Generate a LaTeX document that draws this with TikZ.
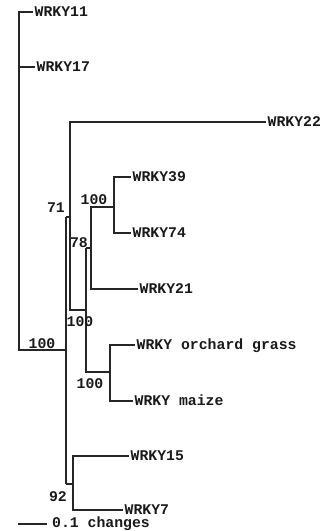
\documentclass[tikz,border=0pt]{standalone}
\usepackage{fontspec}
\setmonofont{Liberation Mono}
\begin{document}
\begin{tikzpicture}[x=1pt,y=-1pt,
  branch/.style={draw=black!85,line width=1.4pt},
  leaf/.style={anchor=west,inner xsep=1.5pt,inner ysep=0pt,text height=8.5pt,text depth=0pt,font=\ttfamily\bfseries\fontsize{14.8}{16}\selectfont,text=black!90},
  boot/.style={inner sep=0pt,text height=8.5pt,text depth=0pt,font=\ttfamily\bfseries\fontsize{14.8}{16}\selectfont,text=black!90}]
\useasboundingbox (0,0) rectangle (325,531);
% leaves
\node[leaf] (w11) at (33,12) {WRKY11};
\node[leaf] (w17) at (35,67) {WRKY17};
\node[leaf] (w22) at (266,122) {WRKY22};
\node[leaf] (w39) at (131,177) {WRKY39};
\node[leaf] (w74) at (131,233) {WRKY74};
\node[leaf] (w21) at (138,289) {WRKY21};
\node[leaf] (wog) at (135,345) {WRKY orchard grass};
\node[leaf] (wmz) at (133,401) {WRKY maize};
\node[leaf] (w15) at (129,456) {WRKY15};
\node[leaf] (w7) at (123,510) {WRKY7};
% internal coordinates
\coordinate (r) at (19,350);
\coordinate (a) at (66,350);
\coordinate (b) at (70,217);
\coordinate (c) at (86,310);
\coordinate (d) at (91,248);
\coordinate (e) at (114,207);
\coordinate (f) at (110,372);
\coordinate (g) at (73,484);
% root
\draw[branch] (w11.west) -| (r) -- (a);
\draw[branch] (w17.west) -- (w17.west -| r);
% node a (100)
\draw[branch] (a |- b) -- (a |- g);
% node b (71)
\draw[branch] (a |- b) -- (b);
\draw[branch] (w22.west) -| (b) |- (c);
% node c (100)
\draw[branch] (c |- d) -- (d);
\draw[branch] (c |- d) |- (f);
% node d (78)
\draw[branch] (e) -| (d) |- (w21.west);
% node e (100)
\draw[branch] (w39.west) -| (e) |- (w74.west);
% node f (100)
\draw[branch] (wog.west) -| (f) |- (wmz.west);
% node g (92)
\draw[branch] (a |- g) -- (g);
\draw[branch] (w15.west) -| (g) |- (w7.west);
% bootstrap labels
\node[boot] (l1) at (42,344) {100};
\node[boot] (l2) at (56,208) {71};
\node[boot] (l3) at (94,200) {100};
\node[boot] (l4) at (79,243) {78};
\node[boot] (l5) at (80,322) {100};
\node[boot] (l6) at (90,384) {100};
\node[boot] (l7) at (58,497) {92};
% scale bar
\coordinate (s0) at (18,524);
\node[leaf,inner xsep=0pt] (sc) at (52,523) {0.1 changes};
\draw[branch] (s0) -- (47,524);
\end{tikzpicture}
\end{document}
